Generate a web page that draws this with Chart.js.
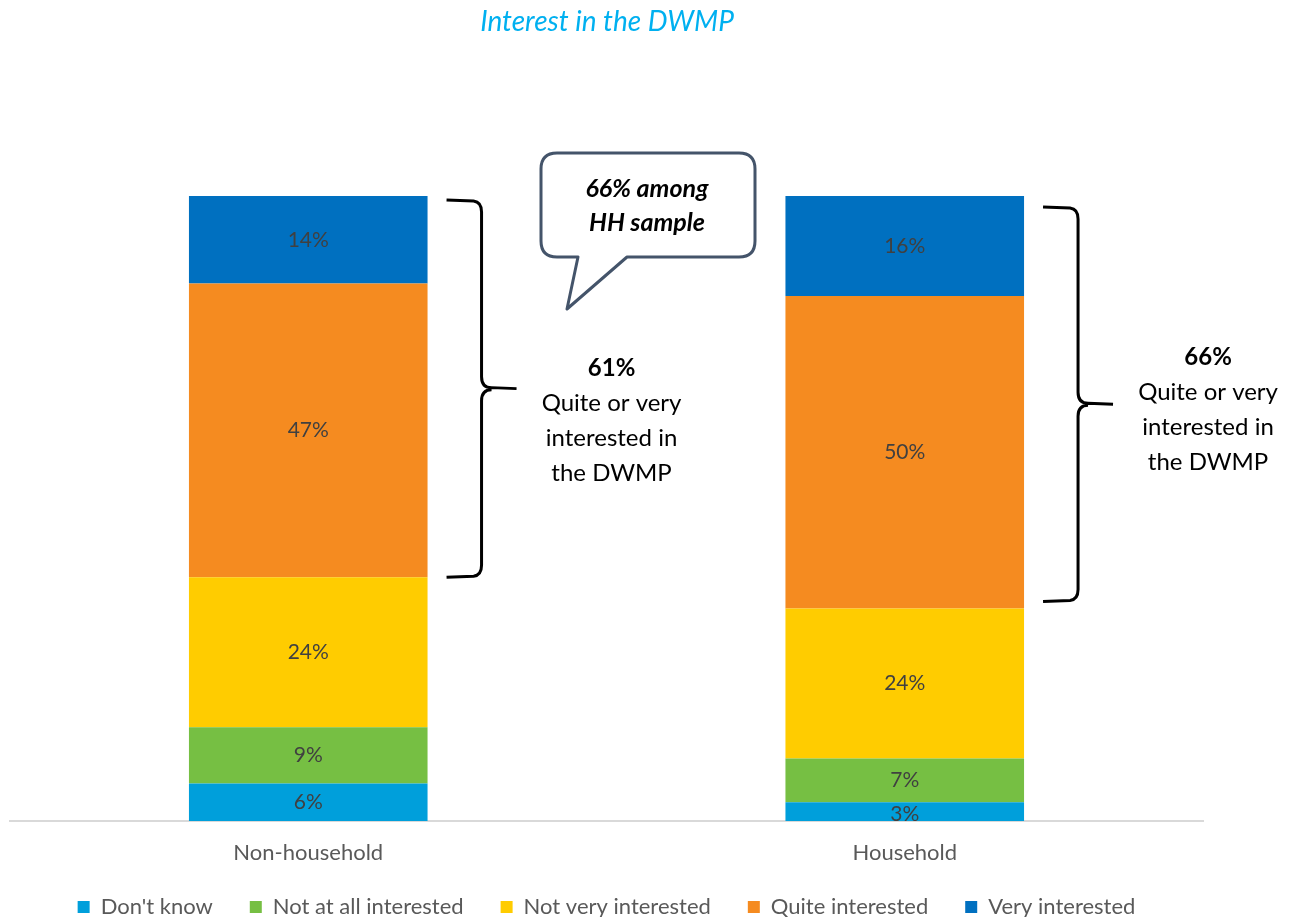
<!DOCTYPE html>
<html>
<head>
<meta charset="utf-8">
<style>
  html, body { margin: 0; padding: 0; background: #fff; }
  #wrap { width: 1299px; height: 917px; }
</style>
</head>
<body>
<div id="wrap"><canvas id="interestChart" width="1299" height="917"></canvas></div>

<script src="https://cdn.jsdelivr.net/npm/chart.js"></script>
<script>
(() => {
  const groups = ['Non-household', 'Household'];
  const answers = ["Don't know", 'Not at all interested', 'Not very interested', 'Quite interested', 'Very interested'];
  const dontKnow = [6, 3];
  const notAtAll = [9, 7];
  const notVery = [24, 24];
  const quite = [47, 50];
  const very = [14, 16];
  const colours = ['#009fdb', '#76bf43', '#ffcc00', '#f58b20', '#0070c0'];

  const FONT = 'Lato, "Liberation Sans", sans-serif';
  const series = [dontKnow, notAtAll, notVery, quite, very];

  // value labels in the middle of every segment
  const segmentLabels = {
    id: 'segmentLabels',
    afterDatasetsDraw(chart) {
      const ctx = chart.ctx;
      ctx.save();
      ctx.font = '21px ' + FONT;
      ctx.fillStyle = '#404040';
      ctx.textAlign = 'center';
      ctx.textBaseline = 'middle';
      chart.data.datasets.forEach((ds, i) => {
        chart.getDatasetMeta(i).data.forEach((bar, j) => {
          const mid = (bar.y + bar.base) / 2;
          ctx.fillText(ds.data[j] + '%', bar.x, mid + (ds.data[j] < 5 ? 3 : 0));
        });
      });
      ctx.restore();
    }
  };

  // keep the legend strip short so the row sits near the bottom edge
  const legendHeight = {
    id: 'legendHeight',
    afterInit(chart) {
      const lg = chart.legend;
      const fit = lg.fit;
      lg.fit = function () {
        fit.call(this);
        this.height = 58;
      };
    }
  };

  function brace(ctx, x0, x1, x2, top, bottom) {
    const mid = (top + bottom) / 2;
    ctx.beginPath();
    ctx.moveTo(x0, top);
    ctx.lineTo(x1 - 8, top + 1);
    ctx.quadraticCurveTo(x1, top + 2, x1, top + 12);
    ctx.lineTo(x1, mid - 12);
    ctx.quadraticCurveTo(x1, mid - 1, x1 + 10, mid - 1);
    ctx.lineTo(x2, mid);
    ctx.moveTo(x1 + 10, mid + 1);
    ctx.quadraticCurveTo(x1, mid + 1, x1, mid + 12);
    ctx.lineTo(x1, bottom - 12);
    ctx.quadraticCurveTo(x1, bottom - 2, x1 - 8, bottom - 1);
    ctx.lineTo(x0, bottom);
    ctx.stroke();
  }

  // title, category names, braces, side notes and the speech bubble
  const notes = {
    id: 'notes',
    afterDraw(chart) {
      const ctx = chart.ctx;
      const x = chart.scales.x;
      const y = chart.scales.y;
      ctx.save();
      ctx.textAlign = 'center';
      ctx.textBaseline = 'middle';

      ctx.font = 'italic 28px ' + FONT;
      ctx.fillStyle = '#00b0f0';
      ctx.fillText('Interest in the DWMP', 607, 22);

      ctx.font = '22px ' + FONT;
      ctx.fillStyle = '#595959';
      groups.forEach((g, j) => ctx.fillText(g, x.getPixelForValue(j), 853));

      ctx.strokeStyle = '#000';
      ctx.lineWidth = 3;
      ctx.lineJoin = 'round';
      const spans = [[4, 0], [11, -7]];
      const textShift = [-20, -47];
      groups.forEach((g, j) => {
        const bar = chart.getDatasetMeta(4).data[j];
        const right = bar.x + bar.width / 2;
        const lower = dontKnow[j] + notAtAll[j] + notVery[j];
        const top = y.getPixelForValue(lower + quite[j] + very[j]) + spans[j][0];
        const bottom = y.getPixelForValue(lower) + spans[j][1];
        brace(ctx, right + 19, right + 54, right + 89, top, bottom);

        const share = quite[j] + very[j];
        const cx = right + 184;
        const base = (top + bottom) / 2 + textShift[j];
        ctx.fillStyle = '#000';
        ctx.font = 'bold 24px ' + FONT;
        ctx.fillText(share + '%', cx, base);
        ctx.font = '24px ' + FONT;
        ['Quite or very', 'interested in', 'the DWMP'].forEach((t, k) => {
          ctx.fillText(t, cx, base + 35 * (k + 1));
        });
      });

      // speech bubble
      const bx = 541, by = 153, bw = 214, bh = 104, r = 16;
      ctx.strokeStyle = '#44546a';
      ctx.lineWidth = 3;
      ctx.fillStyle = '#fff';
      ctx.beginPath();
      ctx.moveTo(bx + r, by);
      ctx.lineTo(bx + bw - r, by);
      ctx.quadraticCurveTo(bx + bw, by, bx + bw, by + r);
      ctx.lineTo(bx + bw, by + bh - r);
      ctx.quadraticCurveTo(bx + bw, by + bh, bx + bw - r, by + bh);
      ctx.lineTo(627, by + bh);
      ctx.lineTo(567, 309);
      ctx.lineTo(578, by + bh);
      ctx.lineTo(bx + r, by + bh);
      ctx.quadraticCurveTo(bx, by + bh, bx, by + bh - r);
      ctx.lineTo(bx, by + r);
      ctx.quadraticCurveTo(bx, by, bx + r, by);
      ctx.closePath();
      ctx.fill();
      ctx.stroke();

      ctx.fillStyle = '#000';
      ctx.font = 'italic bold 25px ' + FONT;
      const hh = quite[1] + very[1];
      ctx.fillText(hh + '% among', 647, 189);
      ctx.fillText('HH sample', 647, 223);

      ctx.restore();
    }
  };

  new Chart(document.getElementById('interestChart'), {
    type: 'bar',
    data: {
      labels: groups,
      datasets: answers.map((a, i) => ({
        label: a,
        data: series[i],
        backgroundColor: colours[i],
        borderWidth: 0,
        categoryPercentage: 0.8,
        barPercentage: 0.5
      }))
    },
    options: {
      responsive: false,
      animation: false,
      layout: { padding: { top: 196, left: 10, right: 96, bottom: 0 } },
      plugins: {
        title: { display: false },
        tooltip: { enabled: false },
        legend: {
          position: 'bottom',
          labels: {
            boxWidth: 12,
            boxHeight: 12,
            padding: 37,
            color: '#595959',
            font: { family: FONT, size: 22 }
          }
        }
      },
      scales: {
        x: {
          stacked: true,
          grid: { display: false },
          border: { color: '#d9d9d9', width: 2 },
          ticks: { display: false },
          afterFit(scale) { scale.height = 38; }
        },
        y: {
          stacked: true,
          display: false,
          min: 0,
          max: 100
        }
      }
    },
    plugins: [legendHeight, segmentLabels, notes]
  });
})();
</script>
</body>
</html>
